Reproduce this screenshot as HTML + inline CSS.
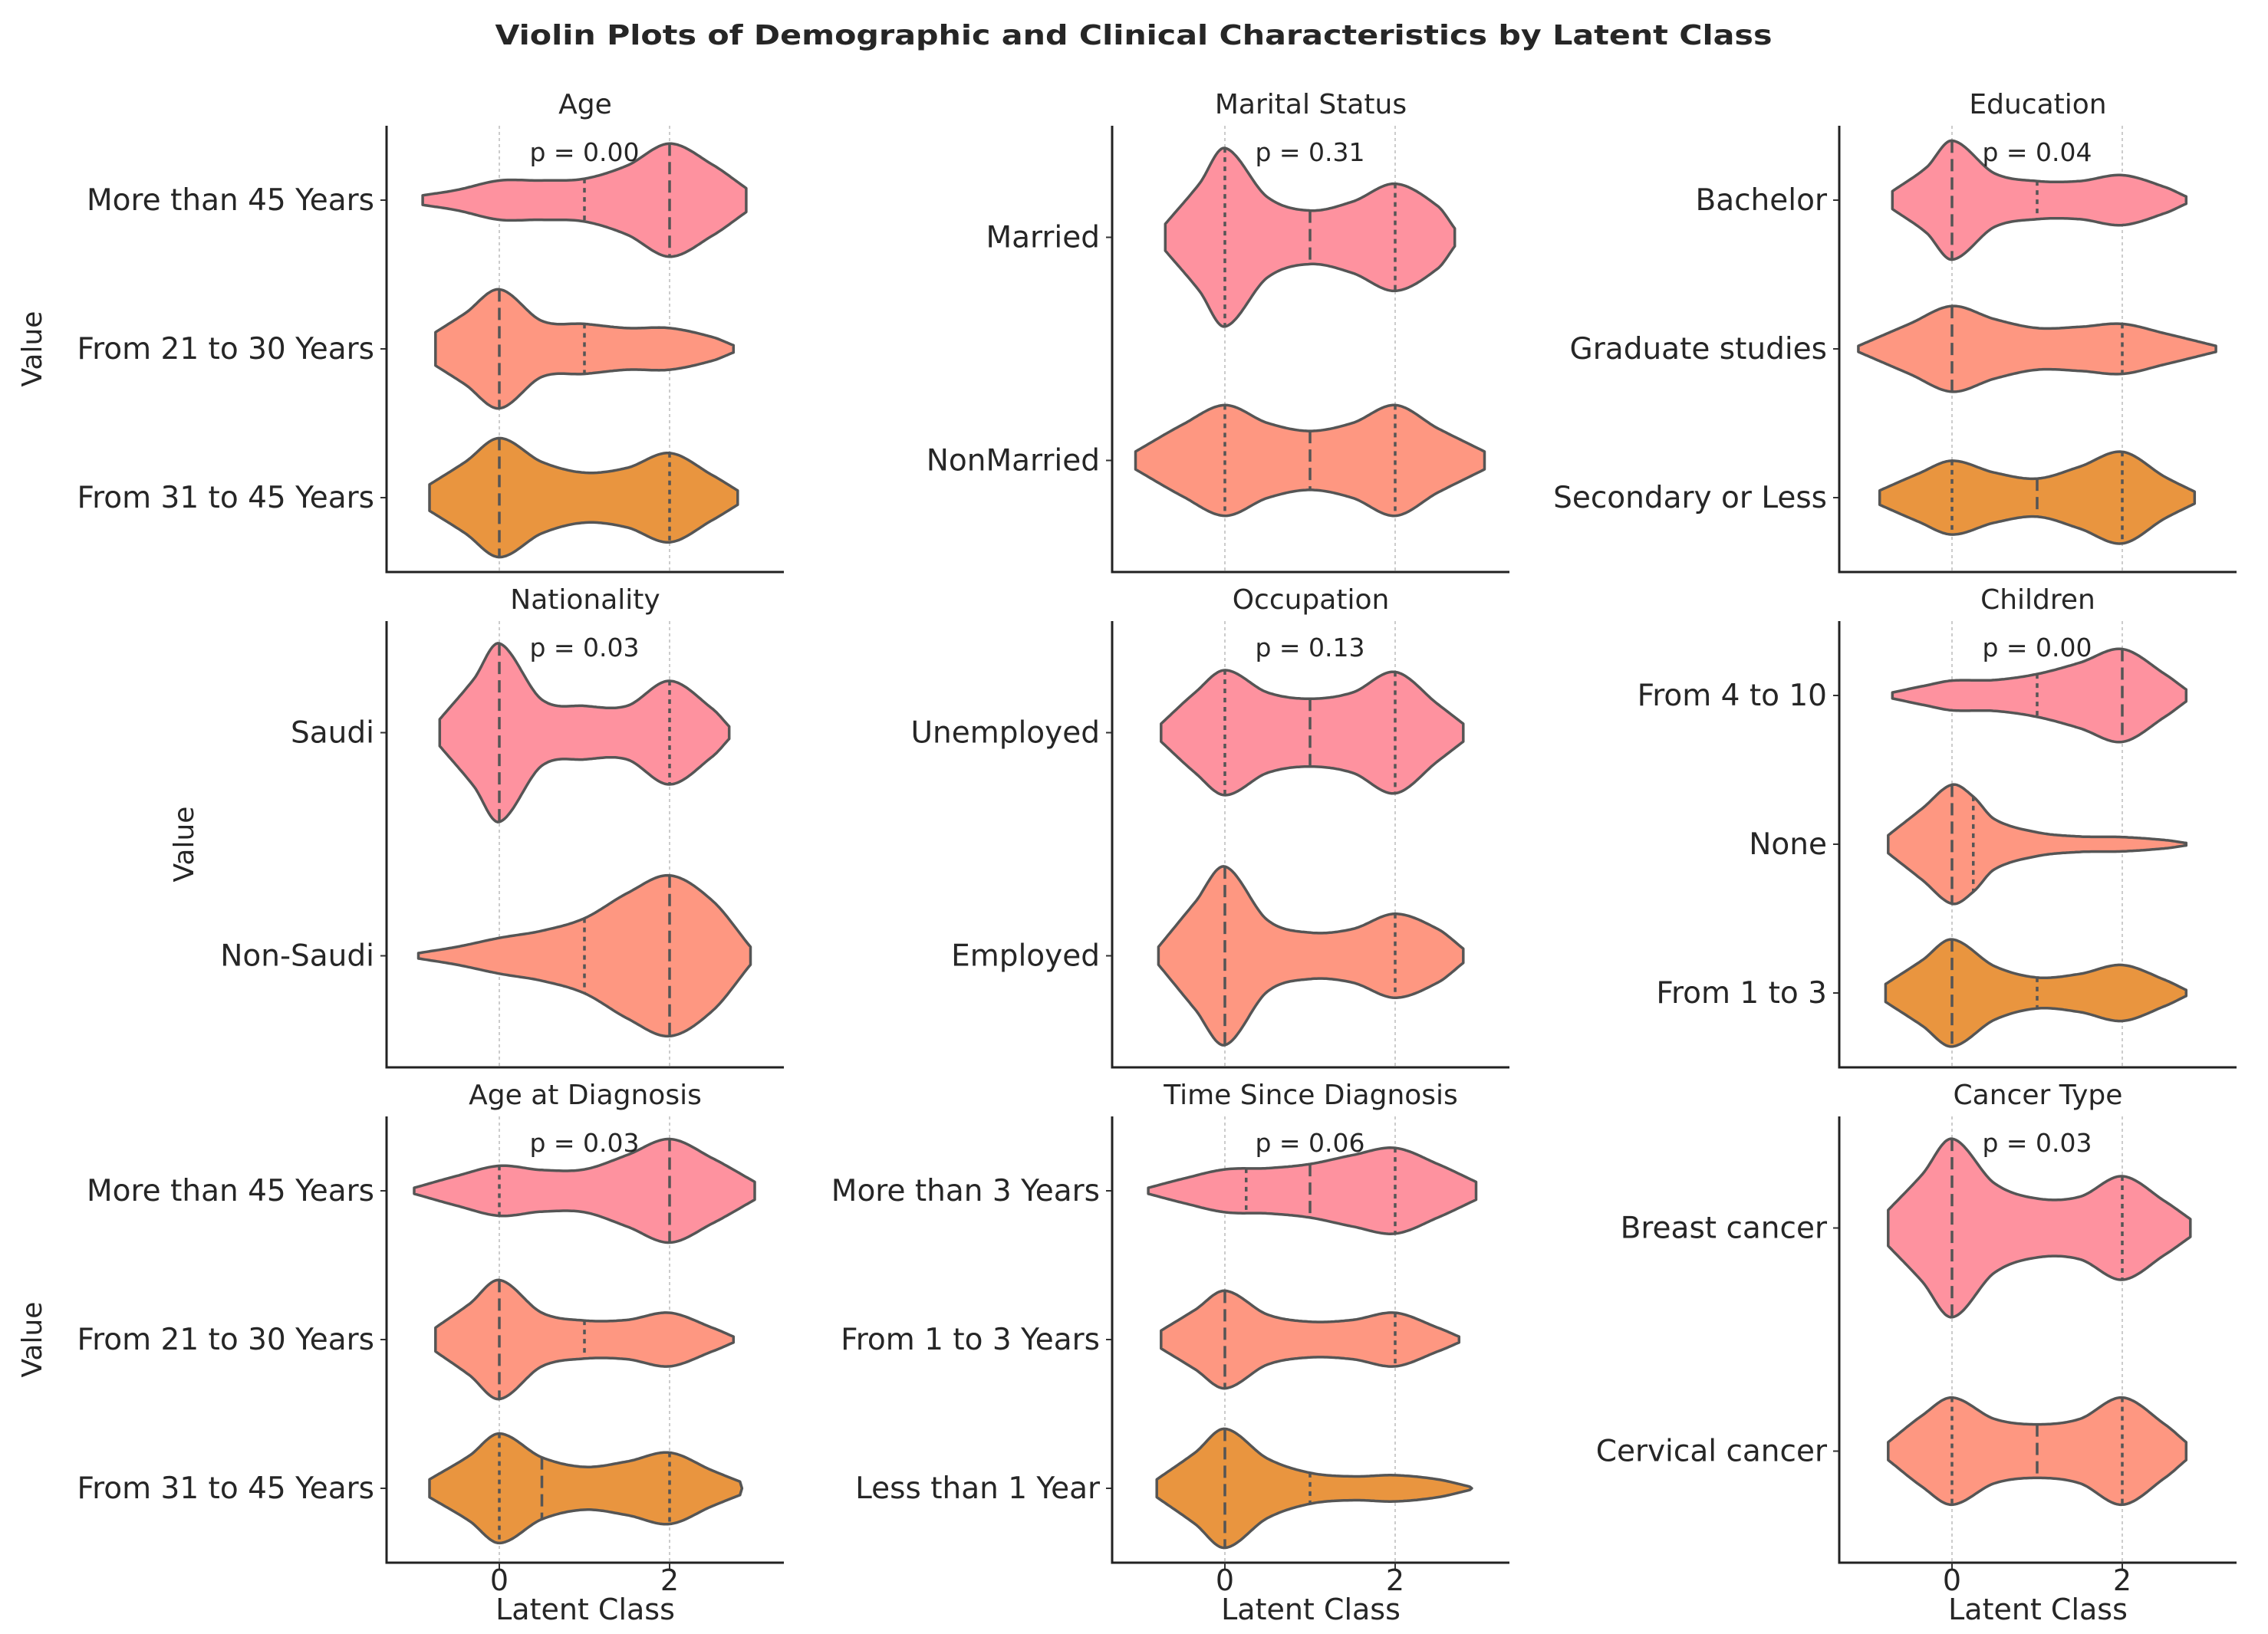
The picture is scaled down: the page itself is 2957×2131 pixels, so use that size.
<!DOCTYPE html>
<html><head><meta charset="utf-8"><style>
html,body{margin:0;padding:0;background:#fff}
svg{display:block}
text{font-family:"DejaVu Sans","Liberation Sans",sans-serif;fill:#262626}
</style></head><body>
<svg id="chart" width="2957" height="2131" viewBox="0 0 2957 2131" xmlns="http://www.w3.org/2000/svg">
<text x="1478" y="58" text-anchor="middle" font-size="36" font-weight="bold" textLength="1665" lengthAdjust="spacingAndGlyphs">Violin Plots of Demographic and Clinical Characteristics by Latent Class</text>
</svg>
<script>
const panelTitles = ["Age","Marital Status","Education","Nationality","Occupation","Children","Age at Diagnosis","Time Since Diagnosis","Cancer Type"];
const pValues = ["0.00","0.31","0.04","0.03","0.13","0.00","0.03","0.06","0.03"];
const categories = [
 ["More than 45 Years","From 21 to 30 Years","From 31 to 45 Years"],
 ["Married","NonMarried"],
 ["Bachelor","Graduate studies","Secondary or Less"],
 ["Saudi","Non-Saudi"],
 ["Unemployed","Employed"],
 ["From 4 to 10","None","From 1 to 3"],
 ["More than 45 Years","From 21 to 30 Years","From 31 to 45 Years"],
 ["More than 3 Years","From 1 to 3 Years","Less than 1 Year"],
 ["Breast cancer","Cervical cancer"]
];
// density profiles: [latent class value, relative half-width]
const densities = [
 [[[-0.9,0.08],[-0.5,0.17],[0,0.33],[0.5,0.33],[1,0.36],[1.5,0.58],[2,0.95],[2.5,0.6],[2.9,0.2]],
  [[-0.75,0.28],[-0.4,0.6],[0,1.0],[0.5,0.47],[1,0.42],[1.5,0.35],[2,0.35],[2.5,0.2],[2.75,0.06]],
  [[-0.82,0.22],[-0.4,0.6],[0,1.0],[0.5,0.6],[1,0.42],[1.5,0.5],[2,0.75],[2.5,0.38],[2.8,0.12]]],
 [[[-0.7,0.15],[-0.3,0.6],[0,1.0],[0.5,0.45],[1,0.3],[1.5,0.4],[2,0.6],[2.5,0.35],[2.7,0.1]],
  [[-1.05,0.1],[-0.5,0.4],[0,0.62],[0.5,0.42],[1,0.33],[1.5,0.42],[2,0.62],[2.5,0.36],[3.05,0.1]]],
 [[[-0.7,0.15],[-0.3,0.55],[0,1.0],[0.5,0.45],[1,0.32],[1.5,0.32],[2,0.42],[2.5,0.22],[2.75,0.06]],
  [[-1.1,0.05],[-0.5,0.42],[0,0.72],[0.5,0.5],[1,0.35],[1.5,0.37],[2,0.42],[2.5,0.26],[3.1,0.05]],
  [[-0.85,0.12],[-0.4,0.4],[0,0.62],[0.5,0.42],[1,0.32],[1.5,0.52],[2,0.77],[2.5,0.35],[2.85,0.1]]],
 [[[-0.7,0.15],[-0.3,0.6],[0,1.0],[0.5,0.37],[1,0.3],[1.5,0.3],[2,0.58],[2.5,0.27],[2.7,0.07]],
  [[-0.95,0.03],[-0.5,0.1],[0,0.2],[0.5,0.28],[1,0.42],[1.5,0.7],[2,0.9],[2.5,0.62],[2.95,0.1]]],
 [[[-0.75,0.1],[-0.35,0.45],[0,0.7],[0.5,0.45],[1,0.38],[1.5,0.45],[2,0.68],[2.5,0.32],[2.8,0.1]],
  [[-0.78,0.1],[-0.35,0.6],[0,1.0],[0.5,0.4],[1,0.26],[1.5,0.3],[2,0.47],[2.5,0.3],[2.8,0.08]]],
 [[[-0.7,0.05],[-0.3,0.17],[0,0.25],[0.5,0.26],[1,0.36],[1.5,0.55],[2,0.78],[2.5,0.36],[2.75,0.1]],
  [[-0.75,0.15],[-0.35,0.6],[0,1.0],[0.25,0.8],[0.5,0.42],[1,0.2],[1.5,0.13],[2,0.12],[2.5,0.07],[2.75,0.02]],
  [[-0.78,0.15],[-0.35,0.55],[0,0.9],[0.5,0.45],[1,0.26],[1.5,0.32],[2,0.47],[2.5,0.22],[2.75,0.05]]],
 [[[-1.0,0.05],[-0.5,0.25],[0,0.42],[0.5,0.35],[1,0.36],[1.5,0.6],[2,0.87],[2.5,0.55],[3.0,0.15]],
  [[-0.75,0.2],[-0.35,0.6],[0,1.0],[0.5,0.45],[1,0.32],[1.5,0.33],[2,0.45],[2.5,0.2],[2.75,0.05]],
  [[-0.82,0.15],[-0.35,0.55],[0,0.92],[0.5,0.52],[1,0.36],[1.5,0.45],[2,0.6],[2.5,0.3],[2.85,0.1]]],
 [[[-0.9,0.05],[-0.5,0.2],[0,0.36],[0.5,0.38],[1,0.45],[1.5,0.6],[2,0.72],[2.5,0.45],[2.95,0.15]],
  [[-0.75,0.15],[-0.35,0.5],[0,0.82],[0.5,0.42],[1,0.3],[1.5,0.33],[2,0.45],[2.5,0.2],[2.75,0.05]],
  [[-0.8,0.15],[-0.35,0.6],[0,1.0],[0.5,0.5],[1,0.26],[1.5,0.2],[2,0.22],[2.5,0.15],[2.9,0.02]]],
 [[[-0.75,0.2],[-0.35,0.6],[0,1.0],[0.5,0.5],[1,0.33],[1.5,0.35],[2,0.58],[2.5,0.3],[2.8,0.1]],
  [[-0.75,0.1],[-0.35,0.4],[0,0.6],[0.5,0.36],[1,0.3],[1.5,0.36],[2,0.6],[2.5,0.3],[2.75,0.1]]]
];
// quartile lines: [value, isMedian]
const quartiles = [
 [[[1,0],[2,1]],[[0,1],[1,0]],[[0,1],[2,0]]],
 [[[0,0],[1,1],[2,0]],[[0,0],[1,1],[2,0]]],
 [[[0,1],[1,0]],[[0,1],[2,0]],[[0,0],[1,1],[2,0]]],
 [[[0,1],[2,0]],[[1,0],[2,1]]],
 [[[0,0],[1,1],[2,0]],[[0,1],[2,0]]],
 [[[1,0],[2,1]],[[0,1],[0.25,0]],[[0,1],[1,0]]],
 [[[0,0],[2,1]],[[0,1],[1,0]],[[0,0],[0.5,1],[2,0]]],
 [[[0.25,0],[1,1],[2,0]],[[0,1],[2,0]],[[0,1],[1,0]]],
 [[[0,1],[2,0]],[[0,0],[1,1],[2,0]]]
];
const xTicks = [0,2];
const colors = ["#fe929f","#fe9781","#e9953f"];
const NS="http://www.w3.org/2000/svg";
const svg=document.getElementById('chart');
function mk(tag,attrs,parent){const e=document.createElementNS(NS,tag);for(const k in attrs)e.setAttribute(k,attrs[k]);(parent||svg).appendChild(e);return e;}
const colLeft=[504,1450,2398], rowTop=[164,810,1456], axH=582, axW=518, unit=111, x0off=147;
function interp(pts,x){
 const n=pts.length;
 for(let i=0;i<n-1;i++){const a=pts[i],b=pts[i+1];
  if(x>=a[0]&&x<=b[0]){
   const h=b[0]-a[0],t=(x-a[0])/h;
   const pa=pts[Math.max(i-1,0)],pb=pts[Math.min(i+2,n-1)];
   let m0=(b[1]-pa[1])/(b[0]-pa[0]),m1=(pb[1]-a[1])/(pb[0]-a[0]);
   if(i===0)m0=(b[1]-a[1])/h; if(i===n-2)m1=(b[1]-a[1])/h;
   const t2=t*t,t3=t2*t;
   const v=(2*t3-3*t2+1)*a[1]+(t3-2*t2+t)*h*m0+(-2*t3+3*t2)*b[1]+(t3-t2)*h*m1;
   return Math.max(0.01,v);}}
 return 0;}
for(let p=0;p<9;p++){
 const col=p%3,row=Math.floor(p/3);
 const L=colLeft[col],T=rowTop[row],B=T+axH;
 const g=mk('g',{});
 
 
 const xs=v=>L+x0off+v*unit;
 const n=categories[p].length, sp=axH/n;
 const ys=i=>T+sp*(i+0.5);
 const tt=mk('text',{x:L+axW/2,y:T-16,'text-anchor':'middle','font-size':36},g);tt.textContent=panelTitles[p];
 
 
 xTicks.forEach(v=>{const gl=mk('line',{x1:xs(v),x2:xs(v),y1:T,y2:B,stroke:'#ccc','stroke-width':2,'stroke-dasharray':'4,4'},g);
  
  });
 for(let i=0;i<n;i++){
  const pts=densities[p][i], cy=ys(i), maxH=0.4*sp;
  const lo=pts[0][0],hi=pts[pts.length-1][0];
  let top=[],bot=[];
  for(let k=0;k<=160;k++){const x=lo+(hi-lo)*k/160;const w=interp(pts,x)*maxH;top.push(xs(x).toFixed(1)+','+(cy-w).toFixed(1));bot.push(xs(x).toFixed(1)+','+(cy+w).toFixed(1));}
  const path=mk('polygon',{points:top.concat(bot.reverse()).join(' '),fill:colors[i],stroke:'#555','stroke-width':3.5,'stroke-linejoin':'round'},g);
  
  
  quartiles[p][i].forEach(q=>{const w=interp(pts,q[0])*maxH;
   const ln=mk('line',{x1:xs(q[0]),x2:xs(q[0]),y1:cy-w,y2:cy+w,stroke:'#555','stroke-width':3.5,'stroke-dasharray':q[1]?'16,8':'6,6'},g);
   
   });
  const tk=mk('line',{x1:L-8,x2:L,y1:cy,y2:cy,stroke:'#333','stroke-width':2},g);
  
  
  const lb=mk('text',{x:L-16,y:cy+13,'text-anchor':'end','font-size':39},g);lb.textContent=categories[p][i];
  
  
 }
 const pt=mk('text',{x:xs(1),y:T+46,'text-anchor':'middle','font-size':33},g);pt.textContent='p = '+pValues[p];
 
 
 const ax=mk('path',{d:`M${L},${T} L${L},${B} L${L+axW},${B}`,fill:'none',stroke:'#222','stroke-width':3},g);
 
 
 if(row===2){
  xTicks.forEach(v=>{const t=mk('line',{x1:xs(v),x2:xs(v),y1:B,y2:B+8,stroke:'#333','stroke-width':2},g);
   
   
   const tl=mk('text',{x:xs(v),y:B+36,'text-anchor':'middle','font-size':38},g);tl.textContent=String(v);
   
   });
  const xl=mk('text',{x:L+axW/2,y:B+74,'text-anchor':'middle','font-size':38},g);xl.textContent='Latent Class';
  
  
 }
 if(col===0){
  const vx=row===1?252:54;
  const yl=mk('text',{x:vx,y:T+axH/2,'text-anchor':'middle','font-size':36,transform:`rotate(-90 ${vx} ${T+axH/2})`},g);yl.textContent='Value';
  
  
 }
}
</script>
</body></html>
